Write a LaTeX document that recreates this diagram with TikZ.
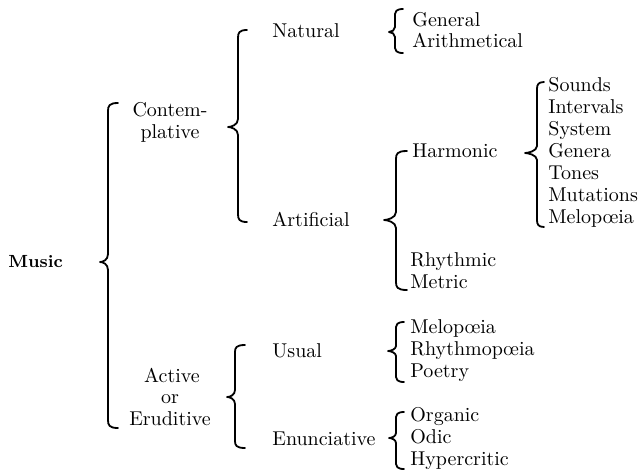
\documentclass[tikz,border=0pt]{standalone}
\usepackage{fontspec}
\begin{document}
\begin{tikzpicture}[x=0.5pt,y=-0.5pt,
  lbl/.style={inner sep=0pt,anchor=base west,font=\fontsize{10}{12}\selectfont},
  clbl/.style={inner sep=0pt,anchor=base,font=\fontsize{10}{12}\selectfont},
  bracestyle/.style={line width=0.9pt,line cap=round,line join=round,black}]
\useasboundingbox (0,0) rectangle (638,473);
\newcommand\bracedraw[7]{%
\draw[bracestyle] (#6,#2) .. controls ({#1+1},#2) and (#1,{#2+3}) .. (#1,{#2+#7})
  -- (#1,{#3-#7}) .. controls (#1,{#3-2}) and ({#5+3},#3) .. (#5,#3)
  .. controls ({#5+3},#3) and (#1,{#3+2}) .. (#1,{#3+#7})
  -- (#1,{#4-#7}) .. controls (#1,{#4-3}) and ({#1+1},#4) .. (#6,#4);}
% root
\node[inner sep=0pt,anchor=base west,font=\fontsize{8.8}{12}\bfseries] (music) at (8,267) {Music};
% level 1
\node[clbl] (contem) at (170,116) {Contem-};
\node[clbl] (plative) at (170,138) {plative};
\node[clbl] (active) at (172,382) {Active};
\node[clbl] (or) at (170,403) {or};
\node[clbl] (erud) at (170,425) {Eruditive};
% level 2
\node[lbl] (natural) at (272,37) {Natural};
\node[lbl] (artificial) at (272,226) {Artificial};
\node[lbl] (usual) at (272,357) {Usual};
\node[lbl] (enun) at (272,445) {Enunciative};
% level 3
\node[lbl] (general) at (412,26) {General};
\node[lbl] (arith) at (412,47) {Arithmetical};
\node[lbl] (harmonic) at (412,157) {Harmonic};
\node[lbl] (rhythmic) at (410,266) {Rhythmic};
\node[lbl] (metric) at (410,288) {Metric};
\node[lbl] (melo1) at (410,333) {Melop\oe ia};
\node[lbl] (rhythmo) at (410,355) {Rhythmop\oe ia};
\node[lbl] (poetry) at (410,377) {Poetry};
\node[lbl] (organic) at (410,421) {Organic};
\node[lbl] (odic) at (410,443) {Odic};
\node[lbl] (hyper) at (410,465) {Hypercritic};
% level 4
\node[lbl] (sounds) at (548,91) {Sounds};
\node[lbl] (intervals) at (548,113) {Intervals};
\node[lbl] (system) at (548,135) {System};
\node[lbl] (genera) at (548,157) {Genera};
\node[lbl] (tones) at (548,179) {Tones};
\node[lbl] (mutations) at (548,201) {Mutations};
\node[lbl] (melo2) at (548,223) {Melop\oe ia};
% braces: line x, top, tip y, bottom, tip x, hook x, tip depth
\bracedraw{108}{103}{262}{428}{100}{118}{8}
\bracedraw{238}{30}{127}{222}{228}{247}{8}
\bracedraw{395}{9}{32}{53}{389}{403}{5}
\bracedraw{396}{151}{220}{290}{384}{407}{8}
\bracedraw{537}{82}{153}{227}{525}{544}{7}
\bracedraw{235}{345}{397}{448}{227}{245}{7}
\bracedraw{396}{322}{351}{382}{388}{404}{5}
\bracedraw{396}{412}{438}{469}{389}{404}{5}
\end{tikzpicture}
\end{document}
